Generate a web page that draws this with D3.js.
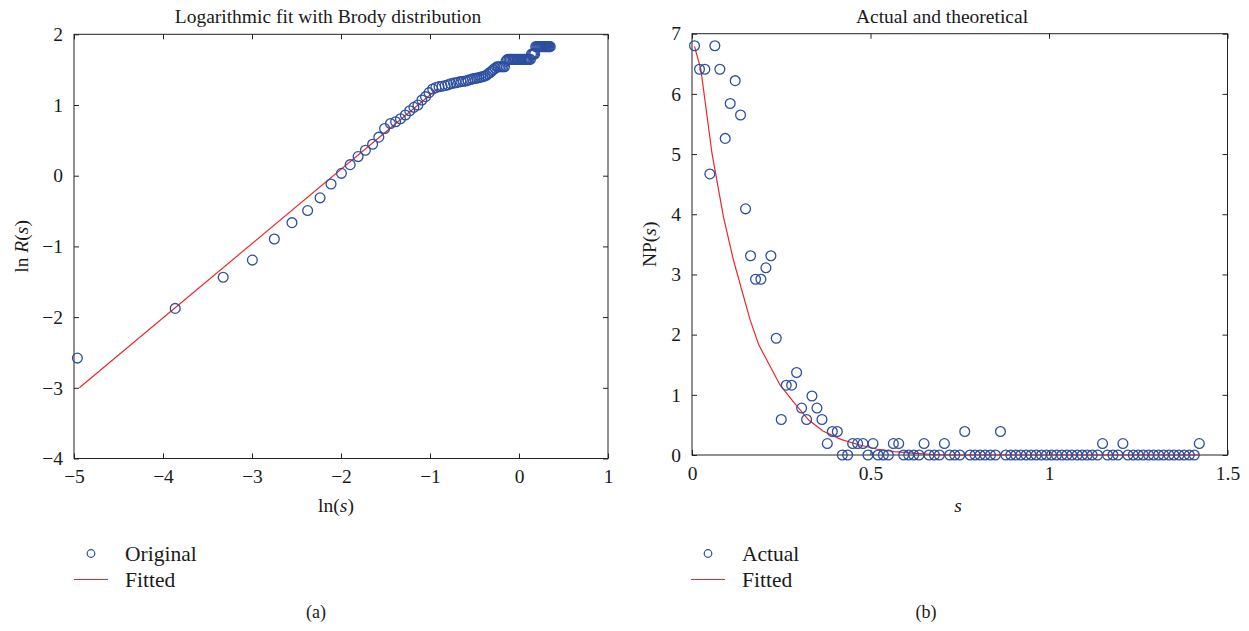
<!DOCTYPE html>
<html>
<head>
<meta charset="utf-8">
<script src="https://cdn.jsdelivr.net/npm/d3@7"></script>
<style>
    body { margin: 0; background: #fff; }
    svg text { font-family: "Liberation Serif", "Times New Roman", serif; fill: #1a1a1a; }
</style>
</head>
<body>
<svg id="chart" width="1249" height="631"></svg>
<script>

// spacing bins s (panel b x values)
const sValues = [
    0.007, 0.021, 0.036, 0.050, 0.064, 0.078, 0.093, 0.107, 0.121, 0.136,
    0.150, 0.164, 0.178, 0.193, 0.207, 0.221, 0.236, 0.250, 0.264, 0.279,
    0.293, 0.307, 0.321, 0.336, 0.350, 0.364, 0.379, 0.393, 0.407, 0.421,
    0.436, 0.450, 0.464, 0.479, 0.493, 0.507, 0.521, 0.536, 0.550, 0.564,
    0.579, 0.593, 0.607, 0.621, 0.636, 0.650, 0.664, 0.679, 0.693, 0.707,
    0.722, 0.736, 0.750, 0.764, 0.779, 0.793, 0.807, 0.821, 0.836, 0.850,
    0.864, 0.879, 0.893, 0.907, 0.921, 0.936, 0.950, 0.964, 0.979, 0.993,
    1.007, 1.021, 1.036, 1.050, 1.064, 1.079, 1.093, 1.107, 1.121, 1.136,
    1.150, 1.164, 1.179, 1.193, 1.207, 1.221, 1.236, 1.250, 1.264, 1.279,
    1.293, 1.307, 1.321, 1.336, 1.350, 1.364, 1.379, 1.393, 1.407, 1.421
]

// NP(s), actual
const npActual = [
    6.80, 6.41, 6.41, 4.67, 6.80, 6.41, 5.26, 5.84, 6.22, 5.65,
    4.09, 3.31, 2.92, 2.92, 3.11, 3.31, 1.94, 0.59, 1.16, 1.16,
    1.37, 0.78, 0.59, 0.98, 0.78, 0.59, 0.19, 0.39, 0.39, 0,
    0, 0.19, 0.19, 0.19, 0, 0.19, 0, 0, 0, 0.19,
    0.19, 0, 0, 0, 0, 0.19, 0, 0, 0, 0.19,
    0, 0, 0, 0.39, 0, 0, 0, 0, 0, 0,
    0.39, 0, 0, 0, 0, 0, 0, 0, 0, 0,
    0, 0, 0, 0, 0, 0, 0, 0, 0, 0,
    0.19, 0, 0, 0, 0.19, 0, 0, 0, 0, 0,
    0, 0, 0, 0, 0, 0, 0, 0, 0, 0.19
]

// fitted NP(s)
const fitS = [0.007, 0.025, 0.056, 0.088, 0.116, 0.163, 0.187, 0.247, 0.287, 0.327,
    0.367, 0.417, 0.467, 0.517, 0.567, 0.617, 0.667, 0.717, 1.421]
const fitNP = [6.79, 6.40, 5.01, 3.96, 3.24, 2.24, 1.83, 1.16, 0.86, 0.58,
    0.40, 0.26, 0.17, 0.10, 0.055, 0.03, 0.01, 0, 0]

// panel a: ln(s) vs ln R(s)
const lnS = [
    -4.962, -3.863, -3.324, -2.996, -2.749, -2.551, -2.375, -2.235, -2.112, -1.995,
    -1.897, -1.808, -1.726, -1.645, -1.575, -1.510, -1.444, -1.386, -1.332, -1.277,
    -1.228, -1.181, -1.136, -1.091, -1.050, -1.011, -0.970, -0.934, -0.899, -0.865,
    -0.830, -0.799, -0.768, -0.736, -0.707, -0.679, -0.652, -0.624, -0.598, -0.573,
    -0.546, -0.523, -0.499, -0.476, -0.453, -0.431, -0.409, -0.387, -0.367, -0.347,
    -0.326, -0.307, -0.288, -0.269, -0.250, -0.232, -0.214, -0.197, -0.179, -0.163,
    -0.146, -0.129, -0.113, -0.098, -0.082, -0.066, -0.051, -0.037, -0.021, -0.007,
    0.007, 0.021, 0.035, 0.049, 0.062, 0.076, 0.089, 0.102, 0.114, 0.128,
    0.140, 0.152, 0.165, 0.176, 0.188, 0.200, 0.212, 0.223, 0.234, 0.246,
    0.257, 0.268, 0.278, 0.290, 0.300, 0.310, 0.321, 0.332, 0.341, 0.351
]
const lnR = [
    -2.58, -1.877, -1.436, -1.194, -0.896, -0.664, -0.493, -0.313, -0.118, 0.033,
    0.156, 0.270, 0.360, 0.445, 0.545, 0.668, 0.739, 0.763, 0.806, 0.858,
    0.919, 0.967, 1.00, 1.071, 1.118, 1.175, 1.227, 1.246, 1.26, 1.265,
    1.275, 1.285, 1.30, 1.31, 1.315, 1.325, 1.33, 1.335, 1.34, 1.35,
    1.36, 1.37, 1.375, 1.38, 1.385, 1.395, 1.40, 1.41, 1.42, 1.44,
    1.46, 1.48, 1.50, 1.52, 1.54, 1.54, 1.54, 1.54, 1.54, 1.54,
    1.62, 1.645, 1.645, 1.645, 1.645, 1.645, 1.645, 1.645, 1.645, 1.645,
    1.645, 1.645, 1.645, 1.645, 1.645, 1.645, 1.645, 1.645, 1.645, 1.645,
    1.72, 1.72, 1.72, 1.72, 1.825, 1.825, 1.825, 1.825, 1.825, 1.825,
    1.825, 1.825, 1.825, 1.825, 1.825, 1.825, 1.825, 1.825, 1.825, 1.825
]
const fitLnS = [-4.94, -0.91]
const fitLnR = [-3.0, 1.236]

const xTicksA = [-5, -4, -3, -2, -1, 0, 1]
const yTicksA = [-4, -3, -2, -1, 0, 1, 2]
const xTicksB = [0, 0.5, 1, 1.5]
const yTicksB = [0, 1, 2, 3, 4, 5, 6, 7]


const blue = "#2c4fa0"
const red = "#e8282c"
const fontSize = 19.5
const fmt = d3.format("~g")
const svg = d3.select("#chart")

const drawPanel = (p) => {
    const x = d3.scaleLinear().domain(p.xDomain).range([p.left, p.right])
    const y = d3.scaleLinear().domain(p.yDomain).range([p.bottom, p.top])
    const g = svg.append("g")
    const tick = 5

    // inward ticks on all four sides
    g.append("g").attr("transform", `translate(0,${p.bottom})`)
        .call(d3.axisBottom(x).tickValues(p.xTicks).tickFormat(fmt)
            .tickSizeInner(-tick).tickSizeOuter(0).tickPadding(11))
    g.append("g").attr("transform", `translate(${p.left},0)`)
        .call(d3.axisLeft(y).tickValues(p.yTicks).tickFormat(fmt)
            .tickSizeInner(-tick).tickSizeOuter(0).tickPadding(11))
    g.append("g").attr("transform", `translate(0,${p.top})`)
        .call(d3.axisTop(x).tickValues(p.xTicks).tickSizeInner(-tick).tickSizeOuter(0).tickFormat(""))
    g.append("g").attr("transform", `translate(${p.right},0)`)
        .call(d3.axisRight(y).tickValues(p.yTicks).tickSizeInner(-tick).tickSizeOuter(0).tickFormat(""))

    g.selectAll(".domain").remove()
    g.selectAll(".tick line").attr("stroke", "#222")
    g.selectAll(".tick text").attr("font-size", fontSize)
        .attr("font-family", "'Liberation Serif', 'Times New Roman', serif").attr("fill", "#1a1a1a")

    // box
    g.append("rect")
        .attr("x", p.left).attr("y", p.top)
        .attr("width", p.right - p.left).attr("height", p.bottom - p.top)
        .attr("fill", "none").attr("stroke", "#222").attr("stroke-width", 1)

    // fitted line
    const line = d3.line().x(d => x(d[0])).y(d => y(d[1]))
    g.append("path")
        .datum(d3.zip(p.fitX, p.fitY))
        .attr("d", line)
        .attr("fill", "none").attr("stroke", red).attr("stroke-width", 1.2)

    // markers
    g.append("g").selectAll("circle")
        .data(d3.zip(p.ptX, p.ptY))
        .join("circle")
        .attr("cx", d => x(d[0]))
        .attr("cy", d => y(d[1]))
        .attr("r", 4.9)
        .attr("fill", "none").attr("stroke", blue).attr("stroke-width", 1.3)

    // title
    g.append("text")
        .attr("x", p.titleX).attr("y", 23)
        .attr("text-anchor", "middle").attr("font-size", fontSize)
        .text(p.title)

    // x label
    const xl = g.append("text")
        .attr("x", p.xLabelX).attr("y", 512)
        .attr("text-anchor", "middle").attr("font-size", fontSize)
    p.xLabel.forEach(([t, it]) => xl.append("tspan").attr("font-style", it ? "italic" : "normal").text(t))

    // y label
    const cy = (p.top + p.bottom) / 2
    const yl = g.append("text")
        .attr("transform", `translate(${p.yLabelX},${cy}) rotate(-90)`)
        .attr("text-anchor", "middle").attr("font-size", fontSize)
    p.yLabel.forEach(([t, it]) => yl.append("tspan").attr("font-style", it ? "italic" : "normal").text(t))

    // legend
    const lg = g.append("g")
    lg.append("circle").attr("cx", p.legX + 17).attr("cy", 553.5).attr("r", 3.8)
        .attr("fill", "none").attr("stroke", blue).attr("stroke-width", 1.2)
    lg.append("line").attr("x1", p.legX).attr("x2", p.legX + 34).attr("y1", 579.5).attr("y2", 579.5)
        .attr("stroke", red).attr("stroke-width", 1.2)
    lg.append("text").attr("x", p.legX + 51).attr("y", 561).attr("font-size", 21.5).text(p.legend[0])
    lg.append("text").attr("x", p.legX + 51).attr("y", 586.5).attr("font-size", 21.5).text(p.legend[1])

    g.append("text").attr("x", p.capX).attr("y", 618)
        .attr("text-anchor", "middle").attr("font-size", 18).text(p.caption)
}

drawPanel({
    left: 74, right: 608, top: 34.3, bottom: 458.5,
    xDomain: [-5, 1], yDomain: [-4, 2],
    xTicks: xTicksA, yTicks: yTicksA,
    ptX: lnS, ptY: lnR, fitX: fitLnS, fitY: fitLnR,
    title: "Logarithmic fit with Brody distribution", titleX: 328,
    xLabel: [["ln(", false], ["s", true], [")", false]], xLabelX: 336,
    yLabel: [["ln ", false], ["R", true], ["(", false], ["s", true], [")", false]],
    yLabelX: 28,
    legX: 74, legend: ["Original", "Fitted"], capX: 316, caption: "(a)"
})

drawPanel({
    left: 692, right: 1227.5, top: 33.7, bottom: 455,
    xDomain: [0, 1.5], yDomain: [0, 7],
    xTicks: xTicksB, yTicks: yTicksB,
    ptX: sValues, ptY: npActual, fitX: fitS, fitY: fitNP,
    title: "Actual and theoretical", titleX: 942,
    xLabel: [["s", true]], xLabelX: 958,
    yLabel: [["NP(", false], ["s", true], [")", false]],
    yLabelX: 656,
    legX: 691, legend: ["Actual", "Fitted"], capX: 926, caption: "(b)"
})

</script>
</body>
</html>
